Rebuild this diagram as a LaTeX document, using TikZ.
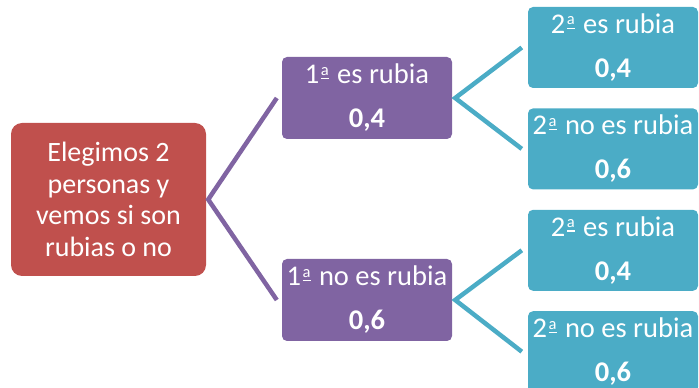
\documentclass[tikz,border=0pt]{standalone}
\usepackage{fontspec}
\setmainfont{Carlito}
\usetikzlibrary{positioning}
\definecolor{rootred}{HTML}{C0504D}
\definecolor{firstpurple}{HTML}{8064A2}
\definecolor{secondteal}{HTML}{4BACC6}
% underlined feminine ordinal, as Calibri draws it
\newcommand\ordfem{\kern1.5pt\raisebox{8.5pt}{\fontsize{16.5}{16.5}\selectfont a}\kern-7.9pt\rule[4.5pt]{7.9pt}{1.4pt}\kern2pt}

\begin{document}
\begin{tikzpicture}[x=1pt,y=1pt,node distance=20pt,
 box/.style={rounded corners=5pt,text=white,align=center,inner sep=0pt,minimum width=170pt,minimum height=81pt,font=\fontsize{28.5}{44}\selectfont},
 rootbox/.style={box,fill=rootred,rounded corners=11pt,minimum width=195pt,minimum height=153pt,font=\fontsize{28}{31.5}\selectfont},
 firstbox/.style={box,fill=firstpurple,minimum height=82pt},
 secondbox/.style={box,fill=secondteal},
 firstline/.style={firstpurple,line width=4.5pt},
 secondline/.style={secondteal,line width=4.5pt}]
\useasboundingbox (0,0) rectangle (699,388);
\clip (0,0) rectangle (699,388);
\node[rootbox] (root) at (108.5,188.5) {Elegimos 2\\personas y\\vemos si son\\rubias o no};
\node[firstbox] (r1) at (367,290) {1\ordfem{} es rubia\\\textbf{0,4}};
\node[firstbox] (n1) at (367,88) {1\ordfem{} no es rubia\\\textbf{0,6}};
\node[secondbox] (r1r) at (613,340.5) {2\ordfem{} es rubia\\\textbf{0,4}};
\node[secondbox,below=of r1r] (r1n) {2\ordfem{} no es rubia\\\textbf{0,6}};
\node[secondbox,below=of r1n] (n1r) {2\ordfem{} es rubia\\\textbf{0,4}};
\node[secondbox,below=of n1r] (n1n) {2\ordfem{} no es rubia\\\textbf{0,6}};
\draw[firstline] ([xshift=-5pt]r1.west) -- ([xshift=2pt]root.east) -- ([xshift=-5pt]n1.west);
\draw[secondline] ([xshift=-6pt]r1r.west) -- ([xshift=3pt]r1.east) -- ([xshift=-6pt]r1n.west);
\draw[secondline] ([xshift=-6pt]n1r.west) -- ([xshift=3pt]n1.east) -- ([xshift=-6pt]n1n.west);
\end{tikzpicture}
\end{document}
